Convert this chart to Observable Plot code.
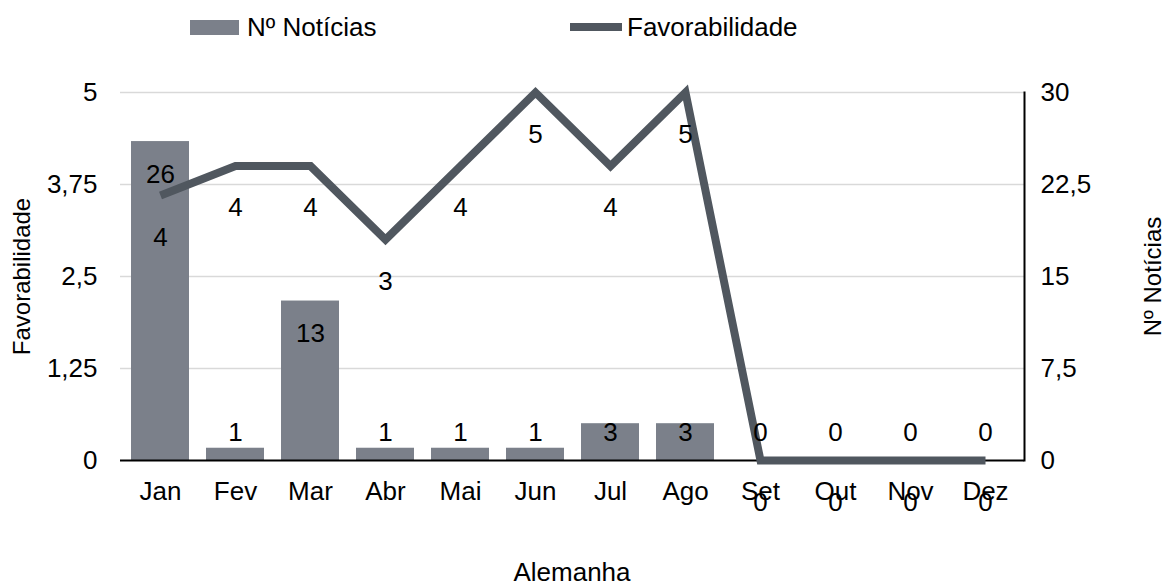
<!DOCTYPE html>
<html>
<head>
<meta charset="utf-8">
<script src="https://cdn.jsdelivr.net/npm/d3@7"></script>
<script src="https://cdn.jsdelivr.net/npm/@observablehq/plot@0.6"></script>
<style>
  html, body { margin: 0; padding: 0; background: #fff; }
  #wrap { position: relative; width: 1166px; height: 585px; font-family: "Liberation Sans", Arial, sans-serif; color: #000; }
  #chart { position: absolute; left: 0; top: 60px; }
  .sw { position: absolute; }
  .lt { position: absolute; font-size: 26px; line-height: 26px; }
  #title { position: absolute; left: 0; width: 1144px; top: 557px; text-align: center; font-size: 26px; line-height: 30px; }
</style>
</head>
<body>
<div id="wrap">
  <div class="sw" style="left:190px;top:20px;width:49px;height:15px;background:#7b808a"></div>
  <div class="lt" style="left:247px;top:14px">Nº Notícias</div>
  <div class="sw" style="left:570px;top:23px;width:52px;height:8px;background:#50575f"></div>
  <div class="lt" style="left:627px;top:14px">Favorabilidade</div>
  <div id="chart"></div>
  <div id="title">Alemanha</div>
</div>
<script>
const months = ["Jan","Fev","Mar","Abr","Mai","Jun","Jul","Ago","Set","Out","Nov","Dez"];
const noticias = [26, 1, 13, 1, 1, 1, 3, 3, 0, 0, 0, 0];
const favorabilidade = [3.6, 4, 4, 3, 4, 5, 4, 5, 0, 0, 0, 0];
const leftTicks = [0, 1.25, 2.5, 3.75, 5];
const rightTicks = [0, 7.5, 15, 22.5, 30];

const rightMax = 30, leftMax = 5;
const toLeft = v => v * leftMax / rightMax;
const fmt = d => String(d).replace(".", ",");

const data = months.map((m, i) => ({month: m, n: noticias[i], fav: favorabilidade[i]}));
const big = data.filter(d => d.n >= 5);
const small = data.filter(d => d.n < 5);

const barColor = "#7b808a";
const lineColor = "#50575f";
const fs = 26;

const chart = Plot.plot({
  width: 1166,
  height: 470,
  marginTop: 32,
  marginBottom: 70,
  marginLeft: 120,
  marginRight: 142,
  style: {fontFamily: "Liberation Sans, Arial, sans-serif", fontSize: fs + "px", color: "#000", background: "#fff"},
  x: {domain: months, paddingInner: 0.23, paddingOuter: 0.115, label: null},
  y: {domain: [0, leftMax], label: null},
  marks: [
    Plot.gridY({ticks: leftTicks.slice(1), stroke: "#d9d9d9", strokeOpacity: 1, strokeWidth: 1.5}),
    Plot.barY(data, {x: "month", y: d => toLeft(d.n), fill: barColor}),
    Plot.ruleY([0], {stroke: "#000", strokeWidth: 2}),
    Plot.frame({anchor: "right", stroke: "#000", strokeWidth: 2}),
    Plot.line(data, {x: "month", y: "fav", stroke: lineColor, strokeWidth: 8, strokeLinejoin: "miter", strokeMiterlimit: 10, strokeLinecap: "butt"}),
    Plot.text(big, {x: "month", y: d => toLeft(d.n), text: d => String(d.n), dy: 33, fontSize: fs, fill: "#000"}),
    Plot.text(small, {x: "month", y: 0, text: d => String(d.n), dy: -28, fontSize: fs, fill: "#000"}),
    Plot.text(data, {x: "month", y: "fav", text: d => String(Math.round(d.fav)), dy: 42, fontSize: fs, fill: "#000"}),
    Plot.axisX({tickSize: 0, tickPadding: 21, fontSize: fs, label: null}),
    Plot.axisY({anchor: "left", ticks: leftTicks, tickFormat: fmt, tickSize: 0, tickPadding: 23, fontSize: fs, label: null}),
    Plot.axisY({anchor: "right", ticks: leftTicks, tickFormat: d => fmt(d * rightMax / leftMax), tickSize: 0, tickPadding: 16, fontSize: fs, label: null}),
    Plot.text(["Favorabilidade"], {frameAnchor: "left", textAnchor: "middle", rotate: -90, dx: -98, fontSize: 24, fill: "#000"}),
    Plot.text(["Nº Notícias"], {frameAnchor: "right", textAnchor: "middle", rotate: -90, dx: 129, fontSize: 24, fill: "#000"})
  ]
});
document.getElementById("chart").appendChild(chart);
</script>
</body>
</html>
